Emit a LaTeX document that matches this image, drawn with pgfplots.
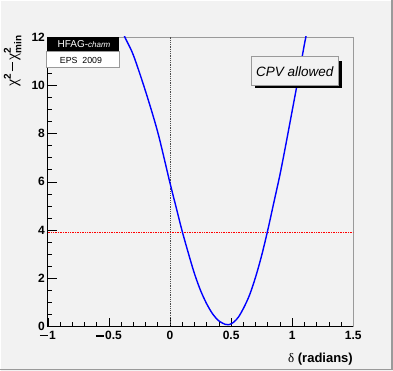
\documentclass[border=0pt]{standalone}
\usepackage{fontspec}
\setmainfont{Liberation Sans}
\newfontfamily\grk{Liberation Serif}
\usepackage{pgfplots}
\pgfplotsset{compat=1.18}
\definecolor{canvas}{HTML}{F2F2F2}
\definecolor{framegray}{HTML}{9A9A9A}
\definecolor{rootblue}{HTML}{0000FF}
\definecolor{rootred}{HTML}{FF0000}
% ROOT-like wide bold minus
\newcommand\mn{\rule[0.27em]{0.68em}{0.11em}\kern0.1em}
\newcommand\scr[1]{\mbox{\bfseries\fontsize{10bp}{11bp}\selectfont #1}}

\begin{document}
\begin{tikzpicture}[x=1bp,y=1bp]
\fill[canvas] (0,0) rectangle (393,371);
\useasboundingbox (0,0) rectangle (393,371);
% canvas bevel
\draw[white, line width=1.2bp] (0.6,0) -- (0.6,370.4) -- (393,370.4);
\draw[framegray, line width=1.4bp] (0,1.6) -- (391.9,1.6) -- (391.9,371);

\begin{axis}[
  at={(47.8bp,44.3bp)}, anchor=south west, scale only axis,
  width=305.5bp, height=289.7bp,
  xmin=-1, xmax=1.5, ymin=0, ymax=12,
  xtick={-1,-0.5,0,0.5,1,1.5}, xticklabels={\mn1,\mn0.5,0,0.5,1,1.5},
  ytick={0,2,4,6,8,10,12}, yticklabels={0,2,4,6,8,10,12},
  minor x tick num=4, minor y tick num=3,
  tick pos=left, tick align=inside,
  major tick length=9bp, minor tick length=4.5bp,
  tick style={black, line width=0.6bp},
  axis line style={framegray, line width=0.8bp},
  ticklabel style={font=\bfseries\fontsize{12bp}{13bp}\selectfont, inner sep=0pt},
  xticklabel style={yshift=-4.5bp},
  yticklabel style={xshift=-2.7bp},
  clip mode=individual,
]
\addplot[gray!60!black, densely dotted, line width=0.8bp] coordinates {(0,0) (0,12)};
\addplot[rootred, densely dotted, line width=0.7bp] coordinates {(-1,3.9) (1.5,3.9)};
\addplot[rootblue, line width=1.4bp, smooth] coordinates {
  (-0.38,12.2) (-0.37,12.0) (-0.30,11.25) (-0.20,9.75) (-0.10,8.05)
  (0.00,5.95) (0.05,4.95) (0.10,3.95) (0.15,3.05) (0.20,2.20)
  (0.25,1.50) (0.30,0.95) (0.35,0.52) (0.40,0.24) (0.45,0.10)
  (0.48,0.08) (0.52,0.18) (0.56,0.40) (0.60,0.75) (0.65,1.30)
  (0.70,2.05) (0.75,2.95) (0.80,4.00) (0.85,5.15) (0.90,6.30)
  (0.95,7.60) (1.00,8.95) (1.05,10.30) (1.10,11.70) (1.12,12.20)
};
\draw[black, line width=0.8bp] (rel axis cs:0,1) -- (rel axis cs:0,0) -- (rel axis cs:1,0);
\end{axis}

% HFAG logo
\fill[black] (46.7,319.3) rectangle (119.3,334.3);
\draw[framegray, fill=white, line width=0.6bp] (46.7,303.7) rectangle (119.3,319.3);
\node[white, inner sep=0pt, font=\fontsize{10bp}{11bp}\selectfont] at (84,327.2) {HFAG-{\itshape\fontsize{8bp}{9bp}\selectfont charm}};
\node[inner sep=0pt, font=\fontsize{8.8bp}{10bp}\selectfont] at (81,311) {EPS\ \ 2009};

% CPV allowed box
\fill[black] (255,282.7) rectangle (342.3,310.3);
\draw[framegray, fill=canvas, line width=0.6bp] (251,286) rectangle (338.3,314.3);
\node[inner sep=0pt, font=\itshape\fontsize{13.5bp}{15bp}\selectfont] at (294.7,299.8) {CPV allowed};

% axis titles
\node[rotate=90, anchor=south east, inner sep=0pt, font=\fontsize{16bp}{18bp}\selectfont]
  at (21.5,336) {{\grk χ}$^{\scr{2}}$\kern2bp{\bfseries\fontsize{14bp}{16bp}\selectfont\mn}{\grk χ}$^{\scr{2}}_{\scr{min}}$};
\node[anchor=east, inner sep=0pt, font=\fontsize{13bp}{15bp}\selectfont] at (353,12) {{\grk δ} \textbf{(radians)}};
\end{tikzpicture}
\end{document}
